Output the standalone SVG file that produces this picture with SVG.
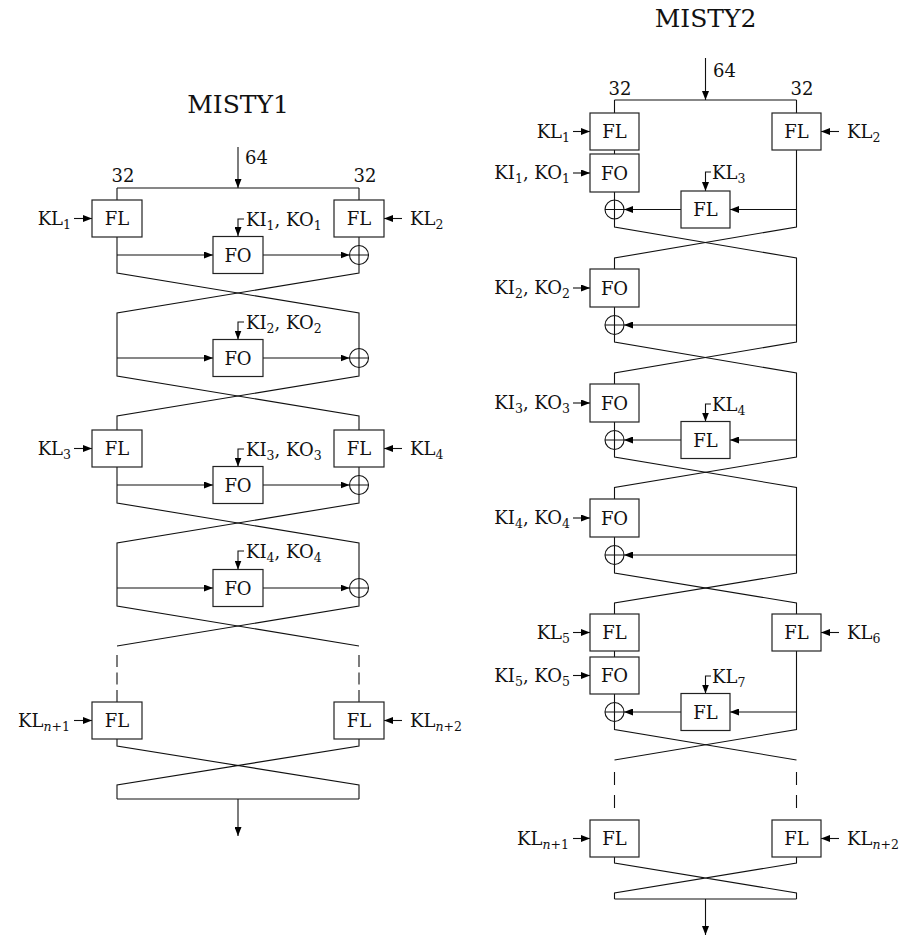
<svg xmlns="http://www.w3.org/2000/svg" width="920" height="938" viewBox="0 0 920 938">
<defs>
<marker id="ah" viewBox="0 0 9 7" refX="9" refY="3.5" markerWidth="9" markerHeight="7" markerUnits="userSpaceOnUse" orient="auto"><path d="M0,0 L9,3.5 L0,7 z" fill="#000"/></marker>
<style>
.b{fill:#fff;stroke:#222;stroke-width:1.2}
.l{fill:none;stroke:#111;stroke-width:1.1}
.a{fill:none;stroke:#111;stroke-width:1.1;marker-end:url(#ah)}
.d{fill:none;stroke:#111;stroke-width:1.1;stroke-dasharray:12 5.5}
.x{fill:none;stroke:#111;stroke-width:1.1}
text{font-family:"DejaVu Serif","Liberation Serif",serif;font-size:18px;fill:#111}
.t{font-size:25px;text-anchor:middle}
.c{text-anchor:middle}
.e{text-anchor:end}
.s{font-size:12.5px}
.i{font-style:italic}
</style>
</defs>

<!-- ================= MISTY1 ================= -->
<g id="misty1-title"><text class="t" x="238" y="113">MISTY1</text></g>
<g id="m1-labels">
<text x="245" y="164">64</text>
<text class="c" x="123" y="182">32</text>
<text class="c" x="365" y="182">32</text>
</g>

<g id="m1-connectors">
<path class="a" d="M238,147 V188"/>
<path class="l" d="M117,188 H359 M117,188 V200 M359,188 V200"/>
<!-- round 1 -->
<path class="l" d="M117,237 V273 L359,313 V348.5"/>
<path class="l" d="M359,237 V245.5"/>
<path class="l" d="M359,264.5 V273 L117,313 V376 L359,416 V430"/>
<path class="a" d="M117,255 H213"/>
<path class="a" d="M263,255 H349.5"/>
<path class="a" d="M74,218.5 H92"/>
<path class="a" d="M402,218.5 H384"/>
<path class="a" d="M244,219 H238 V236"/>
<!-- round 2 -->
<path class="l" d="M359,367.5 V376 L117,416 V430"/>
<path class="a" d="M117,358 H213"/>
<path class="a" d="M263,358 H349.5"/>
<path class="a" d="M244,322 H238 V339.5"/>
<!-- round 3 -->
<path class="l" d="M117,467 V503 L359,543 V578.5"/>
<path class="l" d="M359,467 V475.5"/>
<path class="l" d="M359,494.5 V503 L117,543 V606 L359,646"/>
<path class="a" d="M117,485 H213"/>
<path class="a" d="M263,485 H349.5"/>
<path class="a" d="M74,448.5 H92"/>
<path class="a" d="M402,448.5 H384"/>
<path class="a" d="M244,449 H238 V466.5"/>
<!-- round 4 -->
<path class="l" d="M359,597.5 V606 L117,646"/>
<path class="a" d="M117,588 H213"/>
<path class="a" d="M263,588 H349.5"/>
<path class="a" d="M244,551 H238 V569.5"/>
<!-- dashed -->
<path class="d" d="M117,655 V702 M359,655 V702"/>
<!-- final -->
<path class="a" d="M74,720.5 H92"/>
<path class="a" d="M402,720.5 H384"/>
<path class="l" d="M117,739 V746 L359,785 V799 M359,739 V746 L117,785 V799 M117,799 H359"/>
<path class="a" d="M238,799 V836"/>
</g>

<g id="m1-fl1"><rect class="b" x="92" y="200" width="50" height="37"/><text class="c" x="117" y="225">FL</text></g>
<g id="m1-fl2"><rect class="b" x="334" y="200" width="50" height="37"/><text class="c" x="359" y="225">FL</text></g>
<g id="m1-fo1"><rect class="b" x="213" y="236.5" width="50" height="37"/><text class="c" x="238" y="261.5">FO</text></g>
<g id="m1-xor1"><circle class="x" cx="359" cy="255" r="9.5"/><path class="x" d="M349.5,255 H368.5 M359,245.5 V264.5"/></g>
<g id="m1-fo2"><rect class="b" x="213" y="339.5" width="50" height="37"/><text class="c" x="238" y="364.5">FO</text></g>
<g id="m1-xor2"><circle class="x" cx="359" cy="358" r="9.5"/><path class="x" d="M349.5,358 H368.5 M359,348.5 V367.5"/></g>
<g id="m1-fl3"><rect class="b" x="92" y="430" width="50" height="37"/><text class="c" x="117" y="455">FL</text></g>
<g id="m1-fl4"><rect class="b" x="334" y="430" width="50" height="37"/><text class="c" x="359" y="455">FL</text></g>
<g id="m1-fo3"><rect class="b" x="213" y="466.5" width="50" height="37"/><text class="c" x="238" y="491.5">FO</text></g>
<g id="m1-xor3"><circle class="x" cx="359" cy="485" r="9.5"/><path class="x" d="M349.5,485 H368.5 M359,475.5 V494.5"/></g>
<g id="m1-fo4"><rect class="b" x="213" y="569.5" width="50" height="37"/><text class="c" x="238" y="594.5">FO</text></g>
<g id="m1-xor4"><circle class="x" cx="359" cy="588" r="9.5"/><path class="x" d="M349.5,588 H368.5 M359,578.5 V597.5"/></g>
<g id="m1-fln1"><rect class="b" x="92" y="702" width="50" height="37"/><text class="c" x="117" y="727">FL</text></g>
<g id="m1-fln2"><rect class="b" x="334" y="702" width="50" height="37"/><text class="c" x="359" y="727">FL</text></g>

<g id="m1-keys">
<text class="e" x="71" y="224.5">KL<tspan class="s" dy="4">1</tspan></text>
<text x="410" y="224.5">KL<tspan class="s" dy="4">2</tspan></text>
<text x="246" y="225.5">KI<tspan class="s" dy="4">1</tspan><tspan dy="-4">, KO</tspan><tspan class="s" dy="4">1</tspan></text>
<text x="246" y="328.5">KI<tspan class="s" dy="4">2</tspan><tspan dy="-4">, KO</tspan><tspan class="s" dy="4">2</tspan></text>
<text class="e" x="71" y="454.5">KL<tspan class="s" dy="4">3</tspan></text>
<text x="410" y="454.5">KL<tspan class="s" dy="4">4</tspan></text>
<text x="246" y="455.5">KI<tspan class="s" dy="4">3</tspan><tspan dy="-4">, KO</tspan><tspan class="s" dy="4">3</tspan></text>
<text x="246" y="557.5">KI<tspan class="s" dy="4">4</tspan><tspan dy="-4">, KO</tspan><tspan class="s" dy="4">4</tspan></text>
<text class="e" x="70" y="726.5">KL<tspan class="s" dy="4"><tspan class="i">n</tspan>+1</tspan></text>
<text x="410" y="726.5">KL<tspan class="s" dy="4"><tspan class="i">n</tspan>+2</tspan></text>
</g>

<!-- ================= MISTY2 ================= -->
<g id="misty2-title"><text class="t" x="705.5" y="27">MISTY2</text></g>
<g id="m2-labels">
<text x="713" y="77">64</text>
<text class="c" x="620" y="95">32</text>
<text class="c" x="802" y="95">32</text>
</g>

<g id="m2-connectors">
<path class="a" d="M705.5,58 V100"/>
<path class="l" d="M614.5,100 H796.5 M614.5,100 V113 M796.5,100 V113"/>
<!-- round 1 -->
<path class="l" d="M614.5,150 V154 M614.5,192 V200"/>
<path class="l" d="M796.5,150 V227 L614.5,258 V269"/>
<path class="l" d="M614.5,219 V227 L796.5,258 V342 L614.5,373 V384"/>
<path class="a" d="M796.5,209.5 H730"/>
<path class="a" d="M681,209.5 H624"/>
<path class="a" d="M573,131.5 H590"/>
<path class="a" d="M839,131.5 H821"/>
<path class="a" d="M573,173 H590"/>
<path class="a" d="M711,172 H705.5 V191"/>
<!-- round 2 -->
<path class="l" d="M614.5,307 V315.5"/>
<path class="l" d="M614.5,334.5 V342 L796.5,373 V457 L614.5,487.5 V499"/>
<path class="a" d="M796.5,325 H624"/>
<path class="a" d="M573,288 H590"/>
<!-- round 3 -->
<path class="l" d="M614.5,422 V430.5"/>
<path class="l" d="M614.5,449.5 V457 L796.5,487.5 V573 L614.5,603 V614"/>
<path class="a" d="M796.5,440 H730"/>
<path class="a" d="M681,440 H624"/>
<path class="a" d="M573,403 H590"/>
<path class="a" d="M711,404 H705.5 V421.5"/>
<!-- round 4 -->
<path class="l" d="M614.5,537 V545.5"/>
<path class="l" d="M614.5,564.5 V573 L796.5,603 V614"/>
<path class="a" d="M796.5,555 H624"/>
<path class="a" d="M573,518 H590"/>
<!-- round 5 -->
<path class="l" d="M614.5,651 V657 M614.5,694 V702.5"/>
<path class="l" d="M614.5,721.5 V729.5 L796.5,760"/>
<path class="l" d="M796.5,651 V729.5 L614.5,760"/>
<path class="a" d="M796.5,712 H730"/>
<path class="a" d="M681,712 H624"/>
<path class="a" d="M573,632.5 H590"/>
<path class="a" d="M839,632.5 H821"/>
<path class="a" d="M573,675.5 H590"/>
<path class="a" d="M711,676 H705.5 V693.5"/>
<!-- dashed -->
<path class="d" d="M614.5,772 V808 M796.5,772 V808" style="stroke-dasharray:13 10"/>
<!-- final -->
<path class="a" d="M573,838.5 H590"/>
<path class="a" d="M839,838.5 H821"/>
<path class="l" d="M614.5,857 V863 L796.5,893 V899 M796.5,857 V863 L614.5,893 V899 M614.5,899 H796.5"/>
<path class="a" d="M705.5,899 V935"/>
</g>

<g id="m2-fl1"><rect class="b" x="590" y="113" width="49" height="37"/><text class="c" x="614.5" y="138">FL</text></g>
<g id="m2-fl2"><rect class="b" x="772" y="113" width="49" height="37"/><text class="c" x="796.5" y="138">FL</text></g>
<g id="m2-fo1"><rect class="b" x="590" y="154" width="49" height="38"/><text class="c" x="614.5" y="179.5">FO</text></g>
<g id="m2-xor1"><circle class="x" cx="614.5" cy="209.5" r="9.5"/><path class="x" d="M605,209.5 H624 M614.5,200 V219"/></g>
<g id="m2-fl3"><rect class="b" x="681" y="191" width="49" height="37"/><text class="c" x="705.5" y="216">FL</text></g>
<g id="m2-fo2"><rect class="b" x="590" y="269" width="49" height="38"/><text class="c" x="614.5" y="294.5">FO</text></g>
<g id="m2-xor2"><circle class="x" cx="614.5" cy="325" r="9.5"/><path class="x" d="M605,325 H624 M614.5,315.5 V334.5"/></g>
<g id="m2-fo3"><rect class="b" x="590" y="384" width="49" height="38"/><text class="c" x="614.5" y="409.5">FO</text></g>
<g id="m2-xor3"><circle class="x" cx="614.5" cy="440" r="9.5"/><path class="x" d="M605,440 H624 M614.5,430.5 V449.5"/></g>
<g id="m2-fl4"><rect class="b" x="681" y="421.5" width="49" height="37"/><text class="c" x="705.5" y="446.5">FL</text></g>
<g id="m2-fo4"><rect class="b" x="590" y="499" width="49" height="38"/><text class="c" x="614.5" y="524.5">FO</text></g>
<g id="m2-xor4"><circle class="x" cx="614.5" cy="555" r="9.5"/><path class="x" d="M605,555 H624 M614.5,545.5 V564.5"/></g>
<g id="m2-fl5"><rect class="b" x="590" y="614" width="49" height="37"/><text class="c" x="614.5" y="639">FL</text></g>
<g id="m2-fl6"><rect class="b" x="772" y="614" width="49" height="37"/><text class="c" x="796.5" y="639">FL</text></g>
<g id="m2-fo5"><rect class="b" x="590" y="657" width="49" height="37"/><text class="c" x="614.5" y="682">FO</text></g>
<g id="m2-xor5"><circle class="x" cx="614.5" cy="712" r="9.5"/><path class="x" d="M605,712 H624 M614.5,702.5 V721.5"/></g>
<g id="m2-fl7"><rect class="b" x="681" y="693.5" width="49" height="37"/><text class="c" x="705.5" y="718.5">FL</text></g>
<g id="m2-fln1"><rect class="b" x="590" y="820" width="49" height="37"/><text class="c" x="614.5" y="845">FL</text></g>
<g id="m2-fln2"><rect class="b" x="772" y="820" width="49" height="37"/><text class="c" x="796.5" y="845">FL</text></g>

<g id="m2-keys">
<text class="e" x="570" y="137.5">KL<tspan class="s" dy="4">1</tspan></text>
<text x="847" y="137.5">KL<tspan class="s" dy="4">2</tspan></text>
<text class="e" x="570" y="179">KI<tspan class="s" dy="4">1</tspan><tspan dy="-4">, KO</tspan><tspan class="s" dy="4">1</tspan></text>
<text x="712" y="178.5">KL<tspan class="s" dy="4">3</tspan></text>
<text class="e" x="570" y="294">KI<tspan class="s" dy="4">2</tspan><tspan dy="-4">, KO</tspan><tspan class="s" dy="4">2</tspan></text>
<text class="e" x="570" y="409">KI<tspan class="s" dy="4">3</tspan><tspan dy="-4">, KO</tspan><tspan class="s" dy="4">3</tspan></text>
<text x="712" y="410.5">KL<tspan class="s" dy="4">4</tspan></text>
<text class="e" x="570" y="524">KI<tspan class="s" dy="4">4</tspan><tspan dy="-4">, KO</tspan><tspan class="s" dy="4">4</tspan></text>
<text class="e" x="570" y="638.5">KL<tspan class="s" dy="4">5</tspan></text>
<text x="847" y="638.5">KL<tspan class="s" dy="4">6</tspan></text>
<text class="e" x="570" y="681.5">KI<tspan class="s" dy="4">5</tspan><tspan dy="-4">, KO</tspan><tspan class="s" dy="4">5</tspan></text>
<text x="712" y="682.5">KL<tspan class="s" dy="4">7</tspan></text>
<text class="e" x="569" y="844.5">KL<tspan class="s" dy="4"><tspan class="i">n</tspan>+1</tspan></text>
<text x="847" y="844.5">KL<tspan class="s" dy="4"><tspan class="i">n</tspan>+2</tspan></text>
</g>
</svg>
